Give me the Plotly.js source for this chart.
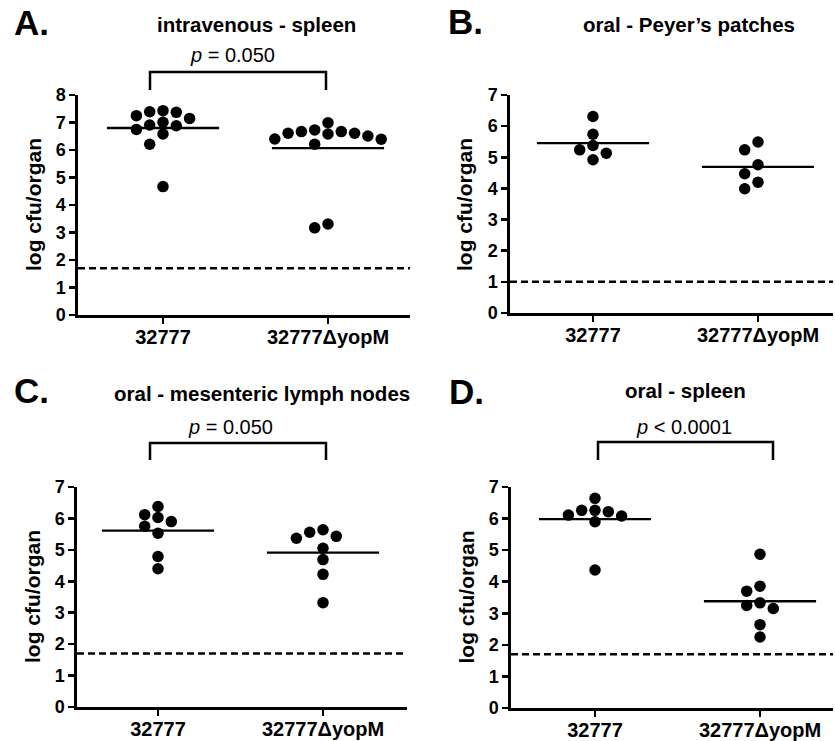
<!DOCTYPE html>
<html><head><meta charset="utf-8">
<script src="https://cdn.plot.ly/plotly-3.0.1.min.js"></script>
<style>html,body{margin:0;padding:0;background:#fff}</style>
</head><body><div id="chart" style="width:835px;height:741px"></div>
<script>
// ---------- data ----------
const categories = ['32777', '32777ΔyopM'];
const panelLetters = ['A.', 'B.', 'C.', 'D.'];
const panelTitles = ['intravenous - spleen', 'oral - Peyer’s patches', 'oral - mesenteric lymph nodes', 'oral - spleen'];
const pValueLabels = ['<i>p</i> = 0.050', '', '<i>p</i> = 0.050', '<i>p</i> < 0.0001'];
const yAxisTitle = 'log cfu/organ';
const detectionLimits = [1.7, 1.0, 1.7, 1.7];
const yAxisMax = [8, 7, 7, 7];

const ivSpleenWT   = [7.43, 7.39, 7.37, 7.25, 7.15, 7.01, 6.91, 6.88, 6.75, 6.58, 6.21, 4.67];
const ivSpleenMut  = [6.99, 6.73, 6.67, 6.67, 6.61, 6.61, 6.58, 6.51, 6.40, 6.39, 6.21, 3.31, 3.17];
const ppWT         = [6.31, 5.74, 5.38, 5.24, 5.13, 4.92];
const ppMut        = [5.49, 5.24, 4.76, 4.47, 4.20, 3.99];
const mlnWT        = [6.38, 6.12, 6.03, 5.90, 5.75, 5.53, 4.79, 4.40];
const mlnMut       = [5.64, 5.56, 5.43, 5.37, 5.05, 4.69, 4.22, 3.32];
const oralSpleenWT = [6.64, 6.26, 6.26, 6.22, 6.11, 6.08, 5.90, 4.37];
const oralSpleenMut= [4.87, 3.86, 3.70, 3.33, 3.25, 3.15, 2.64, 2.25];

const panelData = [
  [ivSpleenWT, ivSpleenMut],
  [ppWT, ppMut],
  [mlnWT, mlnMut],
  [oralSpleenWT, oralSpleenMut]
];

// ---------- layout geometry (pixels) ----------
const W = 835, H = 741;
const frames = [
  {x0: 78,  x1: 410, c0: 163, c1: 328, yTop: 95,  yBot: 315},
  {x0: 510, x1: 833, c0: 593, c1: 758, yTop: 95,  yBot: 313},
  {x0: 77,  x1: 407, c0: 158, c1: 323, yTop: 487, yBot: 707},
  {x0: 511, x1: 833, c0: 595, c1: 760, yTop: 487, yBot: 708}
];
const letterPos = [[12, 23], [446, 22], [12, 390], [447, 391]];
const titlePos  = [[256, 25], [689, 25], [262, 393], [685, 390]];
const pPos      = [[232, 55], null, [231, 427], [684, 427]];
const brackets  = [{x0: 150, x1: 326, top: 72, bot: 90}, null,
                   {x0: 150, x1: 326, top: 443, bot: 460},
                   {x0: 598, x1: 773, top: 442, bot: 460}];

const px = x => x / W;
const py = y => 1 - y / H;
const FONT = 'Liberation Sans, Arial, Helvetica, sans-serif';

// beeswarm: columns of fixed step, greedy from the top
function swarm(values, pxPerUnit) {
  const step = 13.3, d = 11;
  const order = values.map((v, i) => i).sort((a, b) => values[b] - values[a]);
  const placed = [];
  const offs = new Array(values.length);
  order.forEach(i => {
    const y = values[i] * pxPerUnit;
    for (let k = 0; k < 50; k++) {
      const c = k === 0 ? 0 : (k % 2 === 1 ? -Math.ceil(k / 2) : k / 2);
      if (placed.every(p => p.c !== c || Math.abs(p.y - y) >= d)) {
        placed.push({c, y});
        offs[i] = c * step;
        break;
      }
    }
  });
  return offs;
}
const mean = a => a.reduce((s, v) => s + v, 0) / a.length;

const traces = [];
const layout = {
  width: W, height: H,
  margin: {l: 0, r: 0, t: 0, b: 0},
  paper_bgcolor: '#fff', plot_bgcolor: '#fff',
  showlegend: false,
  font: {family: FONT, color: '#000'},
  annotations: [], shapes: []
};

frames.forEach((f, p) => {
  const sfx = p === 0 ? '' : String(p + 1);
  const xa = 'x' + sfx, ya = 'y' + sfx;
  const unit = f.c1 - f.c0;
  const pxPerUnit = (f.yBot - f.yTop) / yAxisMax[p];

  panelData[p].forEach((vals, g) => {
    const offs = swarm(vals, pxPerUnit);
    traces.push({
      type: 'scatter', mode: 'markers', xaxis: xa, yaxis: ya,
      x: vals.map((v, i) => g + offs[i] / unit), y: vals,
      marker: {size: 11.5, color: '#000'}, cliponaxis: false, hoverinfo: 'y'
    });
    const m = mean(vals);
    traces.push({
      type: 'scatter', mode: 'lines', xaxis: xa, yaxis: ya,
      x: [g - 0.34, g + 0.34], y: [m, m],
      line: {color: '#000', width: 2.3}, hoverinfo: 'skip'
    });
  });

  layout['xaxis' + sfx] = {
    domain: [px(f.x0), px(f.x1)], anchor: ya,
    range: [(f.x0 - f.c0) / unit, (f.x1 - f.c0) / unit],
    tickvals: [0, 1], ticktext: categories,
    showline: true, linewidth: 2.7, linecolor: '#000',
    ticks: 'outside', ticklen: 6, tickwidth: 2.7, tickcolor: '#000',
    showgrid: false, zeroline: false, ticklabelstandoff: -4,
    tickfont: {family: FONT, size: 20, color: '#000', weight: 'bold'}
  };
  layout['yaxis' + sfx] = {
    domain: [py(f.yBot), py(f.yTop)], anchor: xa,
    range: [0, yAxisMax[p]], tick0: 0, dtick: 1,
    showline: true, linewidth: 2.7, linecolor: '#000',
    ticks: 'outside', ticklen: 6, tickwidth: 2.7, tickcolor: '#000',
    showgrid: false, zeroline: false,
    tickfont: {family: FONT, size: 18, color: '#000', weight: 'bold'}
  };

  // detection limit
  layout.shapes.push({
    type: 'line', xref: xa + ' domain', yref: ya, x0: 0, x1: 1,
    y0: detectionLimits[p], y1: detectionLimits[p],
    line: {color: '#000', width: 2.5, dash: '7px,4px'}
  });

  // letters, titles
  layout.annotations.push({
    text: '<b>' + panelLetters[p] + '</b>', xref: 'paper', yref: 'paper',
    x: px(letterPos[p][0]), y: py(letterPos[p][1]), xanchor: 'left', yanchor: 'middle',
    showarrow: false, font: {family: FONT, size: 35, color: '#000'}
  });
  layout.annotations.push({
    text: '<b>' + panelTitles[p] + '</b>', xref: 'paper', yref: 'paper',
    x: px(titlePos[p][0]), y: py(titlePos[p][1]), xanchor: 'center', yanchor: 'middle',
    showarrow: false, font: {family: FONT, size: 20.5, color: '#000'}
  });
  layout.annotations.push({
    text: '<b>' + yAxisTitle + '</b>', xref: 'paper', yref: 'paper', textangle: -90,
    x: px(f.x0 - 45), y: py((f.yTop + f.yBot) / 2), xanchor: 'center', yanchor: 'middle',
    showarrow: false, font: {family: FONT, size: 21, color: '#000'}
  });
  if (pPos[p]) {
    layout.annotations.push({
      text: pValueLabels[p], xref: 'paper', yref: 'paper',
      x: px(pPos[p][0]), y: py(pPos[p][1]), xanchor: 'center', yanchor: 'middle',
      showarrow: false, font: {family: FONT, size: 20, color: '#000'}
    });
    const b = brackets[p];
    layout.shapes.push({
      type: 'path', xref: 'paper', yref: 'paper',
      path: `M ${px(b.x0)} ${py(b.bot)} L ${px(b.x0)} ${py(b.top)} L ${px(b.x1)} ${py(b.top)} L ${px(b.x1)} ${py(b.bot)}`,
      line: {color: '#000', width: 2.5}
    });
  }
});

Plotly.newPlot('chart', traces, layout, {staticPlot: true, displayModeBar: false});
</script>
</body></html>
